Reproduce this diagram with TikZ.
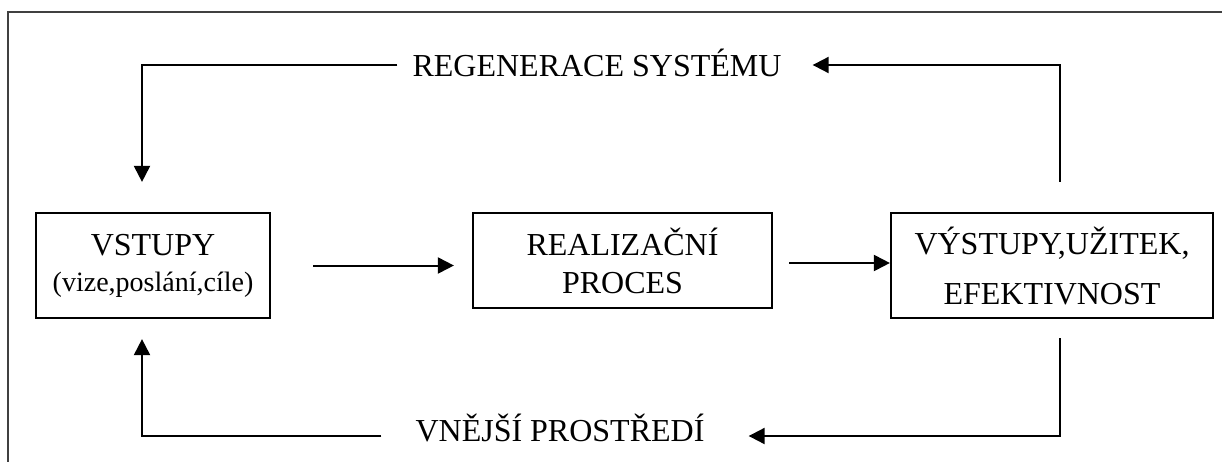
\documentclass[tikz,border=0pt]{standalone}
\usepackage{fontspec}
\setmainfont{Liberation Serif}
\usetikzlibrary{arrows.meta}

\tikzset{
  x=1pt, y=-1pt,
  boxnode/.style={draw, line width=2.2pt, inner sep=0pt, align=center,
    font=\fontsize{32}{38}\selectfont},
  lbl/.style={inner sep=0pt, font=\fontsize{32}{38}\selectfont,
    text height=21pt, text depth=0pt},
  link/.style={line width=2pt},
  arr/.style={link, -{Triangle[length=16pt,width=16pt]}},
  frame/.style={line width=1.4pt, draw=black!75},
}

\begin{document}
\begin{tikzpicture}
  \useasboundingbox (0,0) rectangle (1222,461);

  % outer frame (only its left and top edges fall inside the page)
  \draw[frame] (8,470) -- (8,12) -- (1230,12);

  % the three stages
  \node[boxnode, minimum width=234pt, minimum height=105pt] (in) at (153,265.5)
    {VSTUPY\\[-2pt]{\fontsize{28}{34}\selectfont (vize,poslání,cíle)}};
  \node[boxnode, minimum width=299pt, minimum height=95pt] (mid) at (622.5,260.5)
    {REALIZAČNÍ\\PROCES};
  \node[boxnode, minimum width=322pt, minimum height=105pt] (out) at (1052,265.5)
    {VÝSTUPY,UŽITEK,\\[12pt]EFEKTIVNOST};

  % feedback labels
  \node[lbl] (reg) at (597,66) {REGENERACE SYSTÉMU};
  \node[lbl] (env) at (560,431) {VNĚJŠÍ PROSTŘEDÍ};

  % forward flow
  \draw[arr, shorten <=42pt, shorten >=18pt] (in.east) -- (in.east -| mid.west);
  \draw[arr, shorten <=16pt] ([yshift=-2.5pt]mid.east) -- ([yshift=-2.5pt]mid.east -| out.west);

  % regeneration loop over the top
  \draw[arr] ([xshift=8pt,yshift=30pt]out.north) |- ([xshift=31pt,yshift=1pt]reg.east);
  \draw[arr] ([xshift=-15pt,yshift=1pt]reg.west) -| ([xshift=-11pt,yshift=30pt]in.north);

  % environment loop along the bottom
  \draw[arr] ([xshift=8pt,yshift=-19pt]out.south) |- ([xshift=44pt,yshift=-5pt]env.east);
  \draw[arr] ([xshift=-34pt,yshift=-5pt]env.west) -| ([xshift=-11pt,yshift=-20pt]in.south);
\end{tikzpicture}
\end{document}
